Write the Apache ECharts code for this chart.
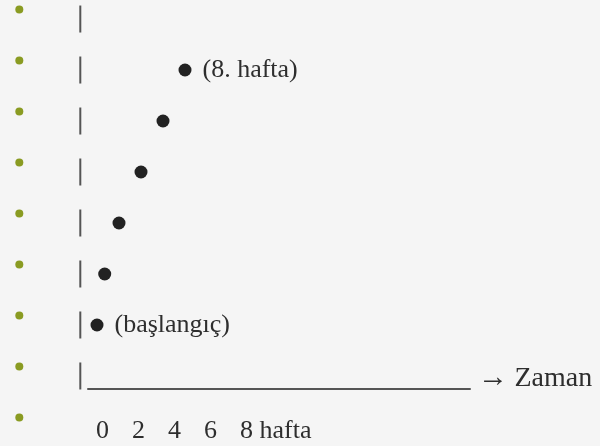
<!DOCTYPE html>
<html>
<head>
<meta charset="utf-8">
<script src="https://cdn.jsdelivr.net/npm/echarts@6/dist/echarts.min.js"></script>
<style>
html,body{margin:0;padding:0;background:#f5f5f5;}
#c{width:600px;height:446px;}
</style>
</head>
<body>
<div id="c"></div>
<script>
// ---- data ----
var dotWeeks  = [0, 0.7, 2, 4, 6, 8];          // horizontal position of each dot (weeks)
var dotLevels = [0, 1, 2, 3, 4, 5];            // vertical level of each dot
var dotLabels = ['(başlangıç)', '', '', '', '', '(8. hafta)'];
var rowLevels = [6, 5, 4, 3, 2, 1, 0, -1, -2]; // bullet rows of the slide
var barRows   = [6, 5, 4, 3, 2, 1, 0, -1];     // rows showing the "|" of the vertical axis
var tickValues = [0, 2, 4, 6, 8];
var tickUnit = 'hafta';
var axisArrow = '→';
var axisName = 'Zaman';

var FONT = '"Liberation Serif", "DejaVu Serif", serif';
var TEXT = '#2e2e2e';

var chart = echarts.init(document.getElementById('c'), null, {renderer: 'canvas'});
chart.setOption({
  backgroundColor: '#f5f5f5',
  animation: false,
  grid: [
    {left: 86, right: 63, top: 0, bottom: 0},
    {left: 88, right: 130, top: 360, bottom: 57}
  ],
  xAxis: [
    {type: 'value', gridIndex: 0, min: -1, max: 40, show: false},
    {
      type: 'value', gridIndex: 1, min: -0.444, max: 20.778,
      axisLine: {show: true, lineStyle: {color: '#555', width: 2}},
      axisTick: {show: false},
      splitLine: {show: false},
      axisLabel: {
        customValues: tickValues,
        align: 'left',
        margin: 29,
        fontSize: 26,
        fontFamily: FONT,
        color: TEXT,
        formatter: function (v) { return v === 8 ? v + ' ' + tickUnit : String(v); }
      },
      name: '{a|' + axisArrow + '} {z|' + axisName + '}',
      nameLocation: 'end',
      nameGap: 8,
      nameTextStyle: {
        fontSize: 26, fontFamily: FONT, color: TEXT,
        verticalAlign: 'bottom',
        lineHeight: 21,
        rich: {
          a: {fontSize: 30, fontFamily: FONT, color: TEXT, lineHeight: 21},
          z: {fontSize: 28, fontFamily: FONT, color: TEXT, lineHeight: 21}
        }
      }
    }
  ],
  yAxis: [
    {
      type: 'value', gridIndex: 0, min: -2.373, max: 6.373,
      axisLine: {show: false}, axisTick: {show: false}, splitLine: {show: false},
      axisLabel: {
        customValues: rowLevels,
        align: 'left',
        margin: 70.7,
        formatter: function (v) {
          return barRows.indexOf(v) >= 0 ? '{b| }{g| }{p| }' : '{b| }{g| }';
        },
        rich: {
          b: {width: 8, height: 8, borderRadius: 4, backgroundColor: '#8a9b22', verticalAlign: 'top', fontSize: 8},
          g: {width: 56, height: 27, fontSize: 8},
          p: {width: 2, height: 27, backgroundColor: '#555', fontSize: 8}
        }
      }
    },
    {type: 'value', gridIndex: 1, show: false, min: 0, max: 1}
  ],
  series: [
    {
      type: 'scatter',
      xAxisIndex: 0, yAxisIndex: 0,
      symbol: 'circle',
      symbolSize: 13,
      itemStyle: {color: '#222', opacity: 1},
      data: dotWeeks.map(function (w, i) { return {value: [w, dotLevels[i]], name: dotLabels[i]}; }),
      label: {
        show: true,
        position: 'right',
        distance: 11,
        fontSize: 26,
        fontFamily: FONT,
        color: TEXT,
        opacity: 1,
        formatter: function (p) { return p.name; }
      }
    }
  ]
});
</script>
</body>
</html>
